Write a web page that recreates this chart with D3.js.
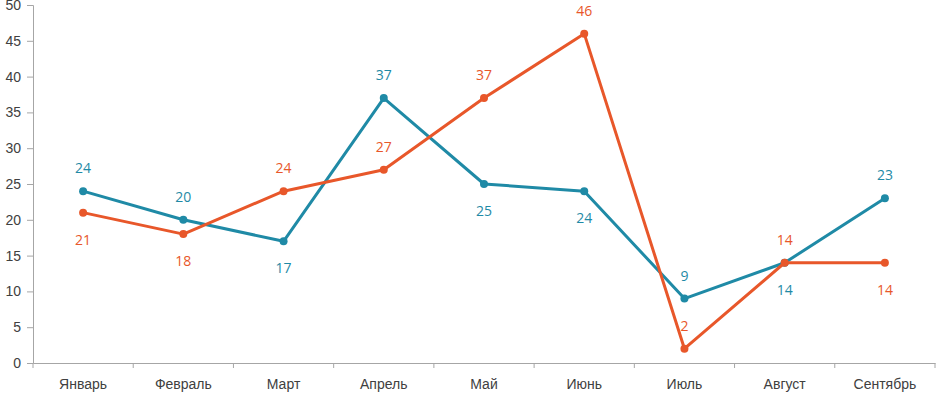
<!DOCTYPE html>
<html>
<head>
<meta charset="utf-8">
<script src="https://cdn.jsdelivr.net/npm/d3@7"></script>
<style>
  body { margin: 0; background: #fff; }
  svg { display: block; font-family: "Open Sans", "Noto Sans", sans-serif; }
</style>
</head>
<body>
<div id="chart"></div>
<script>
var width = 938,
    height = 393;

var months = ['Январь', 'Февраль', 'Март', 'Апрель', 'Май', 'Июнь', 'Июль', 'Август', 'Сентябрь'];
var blueValues = [24, 20, 17, 37, 25, 24, 9, 14, 23];
var orangeValues = [21, 18, 24, 27, 37, 46, 2, 14, 14];
// label placement: 1 = above the point, -1 = below
var bluePlace = [1, 1, -1, 1, -1, -1, 1, -1, 1];
var orangePlace = [-1, -1, 1, 1, 1, 1, 1, 1, -1];
var yTicks = [0, 5, 10, 15, 20, 25, 30, 35, 40, 45, 50];

var blue = '#1f8aa6',
    orange = '#e8572a',
    axisColor = '#a6a6a6';

var svg = d3.select('#chart').append('svg')
    .attr('width', width)
    .attr('height', height);

var x = d3.scaleBand()
    .domain(months)
    .range([33, 935]);

var y = d3.scaleLinear()
    .domain([0, 50])
    .range([363, 5]);

var mapx = function(d, i) { return x(months[i]) + x.bandwidth() / 2; };

// y axis
var yAxis = d3.axisLeft(y)
    .tickValues(yTicks)
    .tickSize(6)
    .tickPadding(6);

var gy = svg.append('g')
    .attr('transform', 'translate(33,0)')
    .call(yAxis);
gy.select('.domain').attr('stroke', axisColor);
gy.selectAll('.tick line').attr('stroke', axisColor);
gy.selectAll('.tick text')
    .attr('fill', '#404040')
    .attr('font-size', '14px');

// x axis, ticks at the band boundaries
var gx = svg.append('g')
    .attr('transform', 'translate(0,363)')
    .call(d3.axisBottom(x).tickSize(0).tickPadding(16));
gx.select('.domain').attr('stroke', axisColor);
gx.selectAll('.tick text')
    .attr('fill', '#404040')
    .attr('font-size', '14px');

gx.selectAll('.boundary')
    .data(months.concat(['end']))
    .enter().append('line')
    .attr('class', 'boundary')
    .attr('x1', function(d, i) { return i < months.length ? x(d) : x.range()[1]; })
    .attr('x2', function(d, i) { return i < months.length ? x(d) : x.range()[1]; })
    .attr('y1', 0)
    .attr('y2', 5)
    .attr('stroke', axisColor);

function drawSeries(values, place, color) {
    var line = d3.line()
        .x(mapx)
        .y(function(d) { return y(d); });

    svg.append('path')
        .datum(values)
        .attr('d', line)
        .attr('fill', 'none')
        .attr('stroke', color)
        .attr('stroke-width', 3)
        .attr('stroke-linejoin', 'round');

    svg.selectAll(null)
        .data(values)
        .enter().append('circle')
        .attr('cx', mapx)
        .attr('cy', function(d) { return y(d); })
        .attr('r', 4)
        .attr('fill', color);

    svg.selectAll(null)
        .data(values)
        .enter().append('text')
        .attr('x', mapx)
        .attr('y', function(d, i) { return y(d) + (place[i] > 0 ? -18 : 32); })
        .attr('text-anchor', 'middle')
        .attr('font-size', '14px')
        .attr('fill', color)
        .text(function(d) { return d; });
}

drawSeries(blueValues, bluePlace, blue);
drawSeries(orangeValues, orangePlace, orange);
</script>
</body>
</html>
